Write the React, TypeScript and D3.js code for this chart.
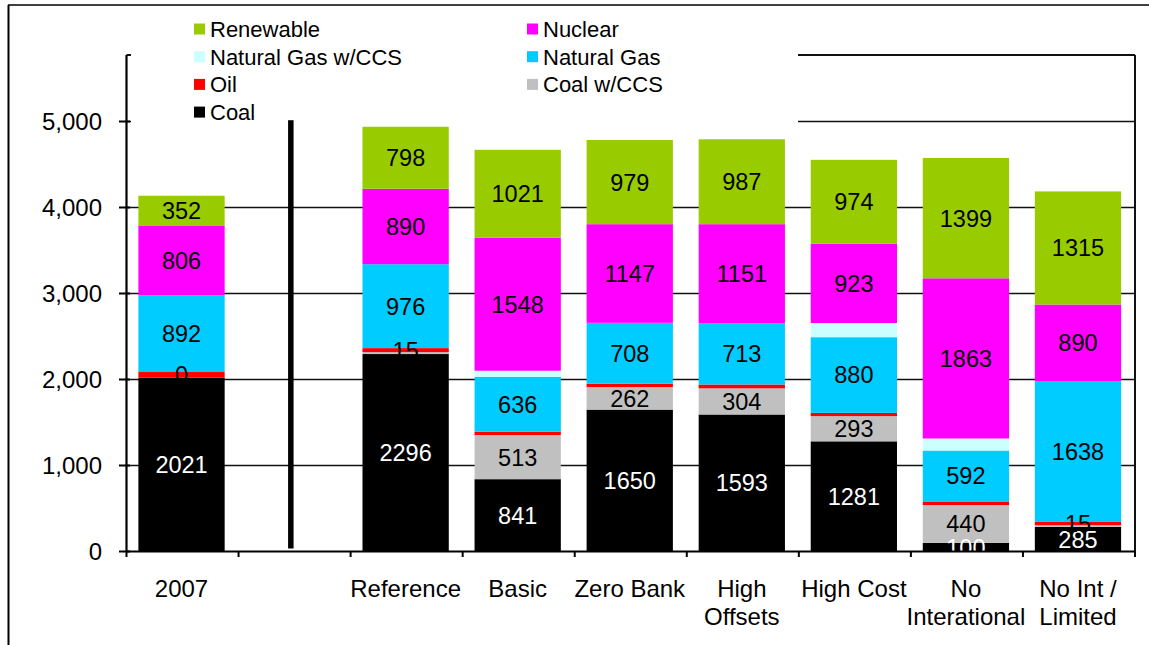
import React from "react";
import * as d3 from "d3";

const categories: string[][] = [
  ["2007"],
  [""],
  ["Reference"],
  ["Basic"],
  ["Zero Bank"],
  ["High", "Offsets"],
  ["High Cost"],
  ["No", "Interational"],
  ["No Int /", "Limited"],
];

const seriesNames = [
  "Coal",
  "Coal w/CCS",
  "Oil",
  "Natural Gas",
  "Natural Gas w/CCS",
  "Nuclear",
  "Renewable",
];
const seriesColors = ["#000000", "#C0C0C0", "#FF0000", "#00CCFF", "#CCFFFF", "#FF00FF", "#99CC00"];

const coal = [2021, 0, 2296, 841, 1650, 1593, 1281, 100, 285];
const coalCCS = [0, 0, 22, 513, 262, 304, 293, 440, 20];
const oil = [66, 0, 47, 39, 39, 45, 38, 42, 39];
const naturalGas = [892, 0, 976, 636, 708, 713, 880, 592, 1638];
const naturalGasCCS = [0, 0, 0, 73, 0, 0, 165, 140, 0];
const nuclear = [806, 0, 877, 1548, 1147, 1151, 923, 1863, 890];
const renewable = [352, 0, 721, 1021, 979, 987, 974, 1399, 1315];

const coalLabels = ["2021", null, "2296", "841", "1650", "1593", "1281", "100", "285"];
const coalCCSLabels = [null, null, null, "513", "262", "304", "293", "440", null];
const oilLabels = ["0", null, "15", null, null, null, null, null, "15"];
const naturalGasLabels = ["892", null, "976", "636", "708", "713", "880", "592", "1638"];
const naturalGasCCSLabels = [null, null, null, null, null, null, null, null, null];
const nuclearLabels = ["806", null, "890", "1548", "1147", "1151", "923", "1863", "890"];
const renewableLabels = ["352", null, "798", "1021", "979", "987", "974", "1399", "1315"];

const yTicks = [0, 1000, 2000, 3000, 4000, 5000];

// legend order (row-wise, two columns)
const legendOrder = [6, 5, 4, 3, 2, 1, 0];

const seriesValues = [coal, coalCCS, oil, naturalGas, naturalGasCCS, nuclear, renewable];
const seriesLabels = [coalLabels, coalCCSLabels, oilLabels, naturalGasLabels, naturalGasCCSLabels, nuclearLabels, renewableLabels];

const W = 1149;
const H = 645;
const plotLeft = 126.5;
const plotRight = 1135;
const plotTop = 55;
const font = "'Liberation Sans', Arial, sans-serif";

export default function App() {
  const idx = categories.map((_, i) => String(i));
  const x = d3.scaleBand<string>().domain(idx).range([plotLeft - 1, plotRight - 1]).paddingInner(0.23).paddingOuter(0.115);
  const y = d3.scaleLinear().domain([0, 5000]).range([551.5, 121.5]);

  const table = categories.map((_, i) => {
    const row: Record<string, number> = {};
    seriesNames.forEach((s, k) => (row[s] = seriesValues[k][i]));
    return row;
  });
  const stacked = d3.stack<Record<string, number>>().keys(seriesNames)(table);

  const step = x.step();
  const boundaries = d3.range(categories.length + 1).map((i) => plotLeft + i * step);

  const legendX0 = 194;
  const legendX1 = 527;
  const legendY0 = 29;
  const legendDy = 27.7;

  return (
    <svg width={W} height={H} style={{ position: "absolute", left: 0, top: 0, background: "#fff" }} fontFamily={font}>
      <rect x={0} y={0} width={W} height={H} fill="#fff" />
      {/* outer frame */}
      <line x1={8} x2={W} y1={5} y2={5} stroke="#000" strokeWidth={1.5} />
      <line x1={8.5} x2={8.5} y1={5} y2={H} stroke="#000" strokeWidth={2} />

      {/* gridlines */}
      {yTicks.filter((t) => t > 0).map((t) => (
        <line key={t} x1={plotLeft} x2={plotRight} y1={y(t)} y2={y(t)} stroke="#111" strokeWidth={1.4} />
      ))}
      {/* plot frame top/right */}
      <line x1={plotLeft} x2={plotRight} y1={plotTop} y2={plotTop} stroke="#111" strokeWidth={2} />
      <line x1={plotRight} x2={plotRight} y1={plotTop} y2={557} stroke="#111" strokeWidth={2} />

      {/* legend box */}
      <rect x={131} y={10} width={667} height={114} fill="#fff" />
      {legendOrder.map((k, j) => {
        const col = j % 2;
        const row = Math.floor(j / 2);
        const lx = col === 0 ? legendX0 : legendX1;
        const ly = legendY0 + row * legendDy;
        return (
          <g key={k}>
            <rect x={lx} y={ly - 5.5} width={11} height={11} fill={seriesColors[k]} />
            <text x={lx + 16} y={ly} dy="0.36em" fontSize={22} fill="#000">
              {seriesNames[k]}
            </text>
          </g>
        );
      })}

      {/* bars */}
      {stacked.map((layer, k) => (
        <g key={layer.key}>
          {layer.map((d, i) =>
            d[1] - d[0] > 0 ? (
              <rect
                key={i}
                x={x(String(i))!}
                width={x.bandwidth()}
                y={y(d[1])}
                height={y(d[0]) - y(d[1])}
                fill={seriesColors[k]}
              />
            ) : null
          )}
        </g>
      ))}

      {/* divider */}
      <rect x={x("1")! + x.bandwidth() / 2 - 5.5} y={y(5015)} width={5.5} height={y(35) - y(5015)} fill="#000" />

      {/* labels */}
      {stacked.map((layer, k) => (
        <g key={"l" + layer.key}>
          {layer.map((d, i) => {
            const lab = seriesLabels[k][i];
            if (lab == null) return null;
            return (
              <text
                key={i}
                x={x(String(i))! + x.bandwidth() / 2}
                y={(y(d[0]) + y(d[1])) / 2}
                dy="0.36em"
                textAnchor="middle"
                fontSize={23.5}
                fill={k === 0 ? "#fff" : "#000"}
              >
                {lab}
              </text>
            );
          })}
        </g>
      ))}

      {/* y axis */}
      <line x1={plotLeft} x2={plotLeft} y1={plotTop} y2={y(0)} stroke="#000" strokeWidth={2.2} />
      {yTicks.map((t) => (
        <g key={t}>
          <line x1={119} x2={130} y1={y(t)} y2={y(t)} stroke="#000" strokeWidth={2} />
          <text x={102} y={y(t)} dy="0.36em" textAnchor="end" fontSize={24} fill="#000">
            {d3.format(",")(t)}
          </text>
        </g>
      ))}

      {/* x axis */}
      <line x1={plotLeft} x2={plotRight} y1={y(0)} y2={y(0)} stroke="#000" strokeWidth={2.2} />
      {boundaries.map((bx, i) => (
        <line key={i} x1={bx} x2={bx} y1={y(0)} y2={557} stroke="#000" strokeWidth={2} />
      ))}
      {categories.map((lines, i) => (
        <text key={i} textAnchor="middle" fontSize={24} fill="#000">
          {lines.map((ln, j) => (
            <tspan key={j} x={x(String(i))! + x.bandwidth() / 2} y={588 + j * 28} dy="0.36em">
              {ln}
            </tspan>
          ))}
        </text>
      ))}
    </svg>
  );
}
